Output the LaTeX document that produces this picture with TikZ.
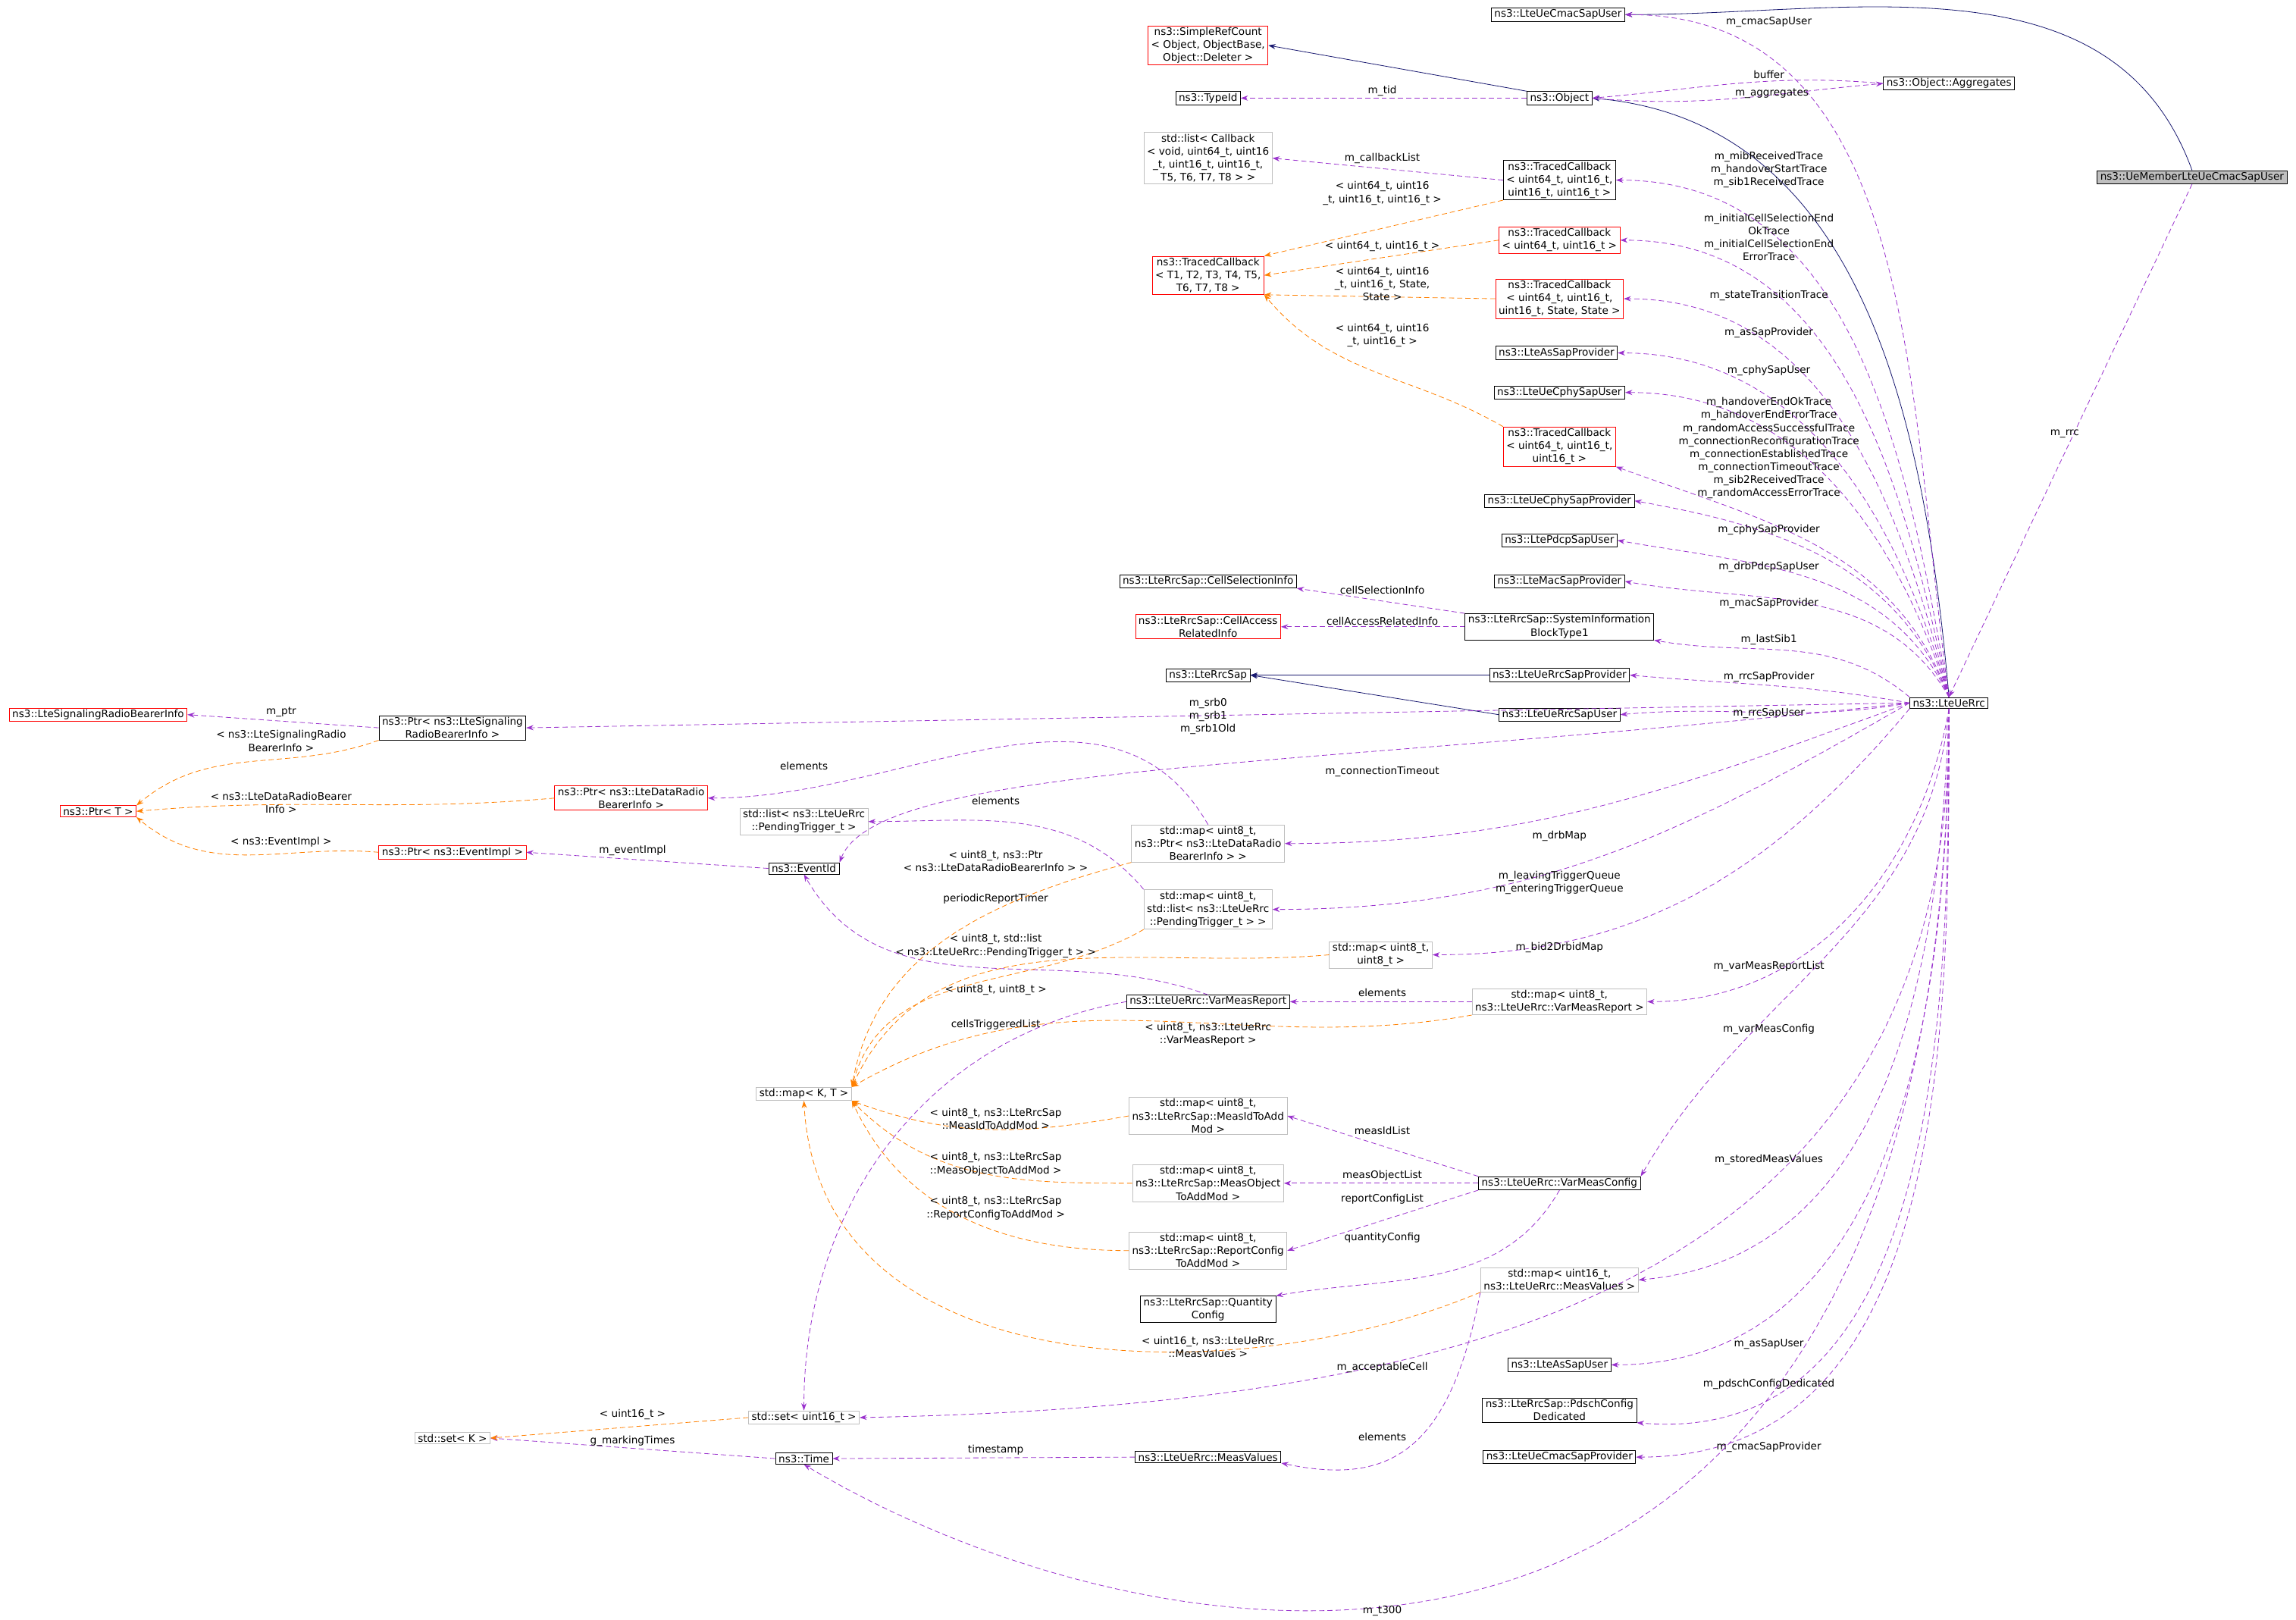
\documentclass[tikz,border=0pt]{standalone}
\usepackage{fontspec}
\setmainfont{DejaVu Sans}
\usetikzlibrary{arrows.meta}
\newcommand\dgf{\fontsize{10}{12.6}\selectfont}
\definecolor{purp}{HTML}{9A32CD}
\definecolor{mblue}{HTML}{191970}
\definecolor{lgray}{HTML}{BFBFBF}
\tikzset{
 box/.style={draw=black,fill=white,font=\dgf,align=center,inner xsep=3pt,inner ysep=1.6pt,line width=0.6pt},
 rbox/.style={box,draw=red},
 gbox/.style={box,draw=lgray},
 lbl/.style={font=\dgf,align=center,inner sep=0pt},
 use/.style={draw=purp,dash pattern=on 5pt off 3pt,line width=0.6pt,-{Stealth[length=7pt,width=5pt]}},
 tmpl/.style={draw=orange,dash pattern=on 5pt off 3pt,line width=0.6pt,-{Stealth[length=7pt,width=5pt]}},
 inh/.style={draw=mblue,line width=0.6pt,-{Stealth[length=7pt,width=5pt]}}
}
\begin{document}
\begin{tikzpicture}[x=0.05cm,y=0.05cm]
\useasboundingbox (0,0) rectangle (1568,-1106);
% nodes
\node[box,fill=lgray] (ue) at (1497,-121) {ns3::UeMemberLteUeCmacSapUser};
\node[box] (cmu) at (1064,-10) {ns3::LteUeCmacSapUser};
\node[rbox] (src) at (825,-31) {ns3::SimpleRefCount\\< Object, ObjectBase,\\Object::Deleter >};
\node[box] (tid) at (825,-67) {ns3::TypeId};
\node[box] (obj) at (1065,-67) {ns3::Object};
\node[box] (agg) at (1331,-57) {ns3::Object::Aggregates};
\node[gbox] (lcb) at (825,-108) {std::list< Callback\\< void, uint64\_t, uint16\\\_t, uint16\_t, uint16\_t,\\T5, T6, T7, T8 > >};
\node[box] (tc4) at (1065,-123) {ns3::TracedCallback\\< uint64\_t, uint16\_t,\\uint16\_t, uint16\_t >};
\node[rbox] (tcT) at (825,-188) {ns3::TracedCallback\\< T1, T2, T3, T4, T5,\\T6, T7, T8 >};
\node[rbox] (tc2) at (1065,-164) {ns3::TracedCallback\\< uint64\_t, uint16\_t >};
\node[rbox] (tcs) at (1065,-204) {ns3::TracedCallback\\< uint64\_t, uint16\_t,\\uint16\_t, State, State >};
\node[box] (asp) at (1063,-241) {ns3::LteAsSapProvider};
\node[box] (cpu) at (1065,-268) {ns3::LteUeCphySapUser};
\node[rbox] (tc3) at (1065,-305) {ns3::TracedCallback\\< uint64\_t, uint16\_t,\\uint16\_t >};
\node[box] (cpp) at (1065,-342) {ns3::LteUeCphySapProvider};
\node[box] (pdu) at (1065,-369) {ns3::LtePdcpSapUser};
\node[box] (msp) at (1065,-397) {ns3::LteMacSapProvider};
\node[box] (csi) at (825,-397) {ns3::LteRrcSap::CellSelectionInfo};
\node[rbox] (cari) at (825,-428) {ns3::LteRrcSap::CellAccess\\RelatedInfo};
\node[box] (sib) at (1065,-428) {ns3::LteRrcSap::SystemInformation\\BlockType1};
\node[box] (rsap) at (825,-461) {ns3::LteRrcSap};
\node[box] (rsp) at (1065,-461) {ns3::LteUeRrcSapProvider};
\node[box] (rsu) at (1065,-488) {ns3::LteUeRrcSapUser};
\node[box] (rrc) at (1331,-480) {ns3::LteUeRrc};
\node[rbox] (lsrb) at (67,-488) {ns3::LteSignalingRadioBearerInfo};
\node[box] (psrb) at (309,-497) {ns3::Ptr< ns3::LteSignaling\\RadioBearerInfo >};
\node[rbox] (ptrT) at (67,-554) {ns3::Ptr< T >};
\node[rbox] (pdrb) at (431,-545) {ns3::Ptr< ns3::LteDataRadio\\BearerInfo >};
\node[gbox] (plist) at (549,-561) {std::list< ns3::LteUeRrc\\::PendingTrigger\_t >};
\node[gbox] (mdrb) at (825,-576) {std::map< uint8\_t,\\ns3::Ptr< ns3::LteDataRadio\\BearerInfo > >};
\node[rbox] (pei) at (309,-582) {ns3::Ptr< ns3::EventImpl >};
\node[box] (eid) at (549,-593) {ns3::EventId};
\node[gbox] (mlist) at (825,-621) {std::map< uint8\_t,\\std::list< ns3::LteUeRrc\\::PendingTrigger\_t > >};
\node[gbox] (mu8) at (943,-652) {std::map< uint8\_t,\\uint8\_t >};
\node[box] (vmr) at (825,-684) {ns3::LteUeRrc::VarMeasReport};
\node[gbox] (mvmr) at (1065,-684) {std::map< uint8\_t,\\ns3::LteUeRrc::VarMeasReport >};
\node[gbox] (mkt) at (549,-747) {std::map< K, T >};
\node[gbox] (mid) at (825,-762) {std::map< uint8\_t,\\ns3::LteRrcSap::MeasIdToAdd\\Mod >};
\node[gbox] (mobj) at (825,-808) {std::map< uint8\_t,\\ns3::LteRrcSap::MeasObject\\ToAddMod >};
\node[gbox] (mrep) at (825,-854) {std::map< uint8\_t,\\ns3::LteRrcSap::ReportConfig\\ToAddMod >};
\node[box] (vmc) at (1065,-808) {ns3::LteUeRrc::VarMeasConfig};
\node[box] (qc) at (825,-894) {ns3::LteRrcSap::Quantity\\Config};
\node[gbox] (mmv) at (1065,-874) {std::map< uint16\_t,\\ns3::LteUeRrc::MeasValues >};
\node[box] (asu) at (1065,-932) {ns3::LteAsSapUser};
\node[box] (pdsch) at (1065,-963) {ns3::LteRrcSap::PdschConfig\\Dedicated};
\node[box] (cmp) at (1065,-995) {ns3::LteUeCmacSapProvider};
\node[gbox] (su16) at (549,-968) {std::set< uint16\_t >};
\node[gbox] (setK) at (309,-982) {std::set< K >};
\node[box] (time) at (549,-996) {ns3::Time};
\node[box] (mv) at (825,-995) {ns3::LteUeRrc::MeasValues};
% inheritance
\draw[inh] (ue.north) to[out=110,in=0] (cmu.east);
\draw[inh] (obj.north west) -- (src.east);
\draw[inh] (rrc.north) to[out=95,in=-5] (obj.east);
\draw[inh] (rsp.west) -- (rsap.east);
\draw[inh] (rsu.west) -- (rsap.east);
% usage
\draw[use] (ue.south) -- (rrc.north); \node[lbl] (l1) at (1410,-296) {m\_rrc};
\draw[use] (obj.west) -- (tid.east); \node[lbl] (l2) at (944,-62) {m\_tid};
\draw[use] (obj.east) to[out=-5,in=185] (agg.west); \node[lbl] (l3) at (1210,-64) {m\_aggregates};
\draw[use] (agg.west) to[out=175,in=5] (obj.east); \node[lbl] (l4) at (1208,-51) {buffer};
\draw[use] (rrc.north) to[out=98,in=0] (cmu.east); \node[lbl] (l5) at (1208,-15) {m\_cmacSapUser};
\draw[use] (tc4.west) -- (lcb.east); \node[lbl] (l6) at (944,-108) {m\_callbackList};
\draw[use] (rrc.north) to[out=100,in=0] (tc4.east); \node[lbl] (l7) at (1208,-116) {m\_mibReceivedTrace\\m\_handoverStartTrace\\m\_sib1ReceivedTrace};
\draw[use] (rrc.north) to[out=102,in=0] (tc2.east); \node[lbl] (l8) at (1208,-162) {m\_initialCellSelectionEnd\\OkTrace\\m\_initialCellSelectionEnd\\ErrorTrace};
\draw[use] (rrc.north) to[out=104,in=0] (tcs.east); \node[lbl] (l9) at (1208,-202) {m\_stateTransitionTrace};
\draw[use] (rrc.north) to[out=106,in=0] (asp.east); \node[lbl] (l10) at (1208,-227) {m\_asSapProvider};
\draw[use] (rrc.north) to[out=108,in=0] (cpu.east); \node[lbl] (l11) at (1208,-253) {m\_cphySapUser};
\draw[use] (rrc.north) to[out=110,in=-20] (tc3.south east); \node[lbl] (l12) at (1208,-306) {m\_handoverEndOkTrace\\m\_handoverEndErrorTrace\\m\_randomAccessSuccessfulTrace\\m\_connectionReconfigurationTrace\\m\_connectionEstablishedTrace\\m\_connectionTimeoutTrace\\m\_sib2ReceivedTrace\\m\_randomAccessErrorTrace};
\draw[use] (rrc.north) to[out=112,in=-10] (cpp.east); \node[lbl] (l13) at (1208,-362) {m\_cphySapProvider};
\draw[use] (rrc.north) to[out=115,in=-10] (pdu.east); \node[lbl] (l14) at (1208,-387) {m\_drbPdcpSapUser};
\draw[use] (rrc.north) to[out=120,in=-10] (msp.east); \node[lbl] (l15) at (1208,-412) {m\_macSapProvider};
\draw[use] (rrc.north west) to[out=140,in=-10] (sib.south east); \node[lbl] (l16) at (1208,-437) {m\_lastSib1};
\draw[use] (sib.north west) -- (csi.south east); \node[lbl] (l17) at (944,-403) {cellSelectionInfo};
\draw[use] (sib.west) -- (cari.east); \node[lbl] (l18) at (944,-424) {cellAccessRelatedInfo};
\draw[use] (rrc.west) to[out=170,in=-5] (rsp.east); \node[lbl] (l19) at (1208,-462) {m\_rrcSapProvider};
\draw[use] (rrc.west) to[out=190,in=5] (rsu.east); \node[lbl] (l20) at (1208,-487) {m\_rrcSapUser};
\draw[use] (rrc.west) -- (psrb.east); \node[lbl] (l21) at (825,-489) {m\_srb0\\m\_srb1\\m\_srb1Old};
\draw[use] (psrb.west) -- (lsrb.east); \node[lbl] (l22) at (192,-486) {m\_ptr};
\draw[use] (rrc.west) .. controls (900,-525) and (600,-520) .. (eid.north east); \node[lbl] (l23) at (944,-527) {m\_connectionTimeout};
\draw[use] (mdrb.north) to[out=120,in=0] (pdrb.east); \node[lbl] (l24) at (549,-523) {elements};
\draw[use] (mlist.north west) to[out=130,in=0] (plist.east); \node[lbl] (l25) at (680,-547) {elements};
\draw[use] (rrc.west) to[out=200,in=0] (mdrb.east); \node[lbl] (l26) at (1065,-571) {m\_drbMap};
\draw[use] (rrc.west) to[out=210,in=0] (mlist.east); \node[lbl] (l27) at (1065,-603) {m\_leavingTriggerQueue\\m\_enteringTriggerQueue};
\draw[use] (rrc.south west) to[out=230,in=0] (mu8.east); \node[lbl] (l28) at (1065,-647) {m\_bid2DrbidMap};
\draw[use] (rrc.south) to[out=-100,in=0] (mvmr.east); \node[lbl] (l29) at (1208,-660) {m\_varMeasReportList};
\draw[use] (mvmr.west) -- (vmr.east); \node[lbl] (l30) at (944,-678) {elements};
\draw[use] (vmr.north) to[out=160,in=-60] (eid.south); \node[lbl] (l31) at (680,-614) {periodicReportTimer};
\draw[use] (vmr.west) to[out=190,in=90] (su16.north); \node[lbl] (l32) at (680,-700) {cellsTriggeredList};
\draw[use] (eid.west) -- (pei.east); \node[lbl] (l33) at (432,-581) {m\_eventImpl};
\draw[use] (rrc.south) to[out=-95,in=60] (vmc.north east); \node[lbl] (l34) at (1208,-703) {m\_varMeasConfig};
\draw[use] (vmc.north west) -- (mid.east); \node[lbl] (l35) at (944,-772) {measIdList};
\draw[use] (vmc.west) -- (mobj.east); \node[lbl] (l36) at (944,-803) {measObjectList};
\draw[use] (vmc.south west) -- (mrep.east); \node[lbl] (l37) at (944,-819) {reportConfigList};
\draw[use] (vmc.south) to[out=-120,in=10] (qc.north east); \node[lbl] (l38) at (944,-845) {quantityConfig};
\draw[use] (rrc.south) to[out=-92,in=5] (mmv.east); \node[lbl] (l39) at (1208,-792) {m\_storedMeasValues};
\draw[use] (rrc.south) .. controls (1335,-880) and (1000,-960) .. (su16.east); \node[lbl] (l40) at (944,-934) {m\_acceptableCell};
\draw[use] (mmv.south west) .. controls (990,-990) and (950,-1015) .. (mv.south east); \node[lbl] (l41) at (944,-981) {elements};
\draw[use] (mv.west) -- (time.east); \node[lbl] (l42) at (680,-990) {timestamp};
\draw[use] (time.west) -- (setK.east); \node[lbl] (l43) at (432,-984) {g\_markingTimes};
\draw[use] (rrc.south) to[out=-90,in=0] (asu.east); \node[lbl] (l44) at (1208,-918) {m\_asSapUser};
\draw[use] (rrc.south) to[out=-90,in=-5] (pdsch.south east); \node[lbl] (l45) at (1208,-945) {m\_pdschConfigDedicated};
\draw[use] (rrc.south) to[out=-90,in=0] (cmp.east); \node[lbl] (l46) at (1208,-988) {m\_cmacSapProvider};
\draw[use] (rrc.south) .. controls (1330,-1230) and (800,-1150) .. (time.south); \node[lbl] (l47) at (944,-1100) {m\_t300};
% templates
\draw[tmpl] (tc4.south west) -- (tcT.north east); \node[lbl] (t1) at (944,-132) {< uint64\_t, uint16\\\_t, uint16\_t, uint16\_t >};
\draw[tmpl] (tc2.west) -- (tcT.east); \node[lbl] (t2) at (944,-168) {< uint64\_t, uint16\_t >};
\draw[tmpl] (tcs.west) -- (tcT.south east); \node[lbl] (t3) at (944,-194) {< uint64\_t, uint16\\\_t, uint16\_t, State,\\State >};
\draw[tmpl] (tc3.north west) to[out=150,in=-50] (tcT.south east); \node[lbl] (t4) at (944,-229) {< uint64\_t, uint16\\\_t, uint16\_t >};
\draw[tmpl] (psrb.south west) to[out=200,in=40] (ptrT.north east); \node[lbl] (t5) at (192,-506) {< ns3::LteSignalingRadio\\BearerInfo >};
\draw[tmpl] (pdrb.west) to[out=185,in=5] (ptrT.east); \node[lbl] (t6) at (192,-548) {< ns3::LteDataRadioBearer\\Info >};
\draw[tmpl] (pei.west) to[out=175,in=-40] (ptrT.south east); \node[lbl] (t7) at (192,-575) {< ns3::EventImpl >};
\draw[tmpl] (mdrb.south west) to[out=195,in=80] (mkt.north east); \node[lbl] (t8) at (680,-588) {< uint8\_t, ns3::Ptr\\< ns3::LteDataRadioBearerInfo > >};
\draw[tmpl] (mlist.south west) to[out=210,in=75] (mkt.north east); \node[lbl] (t9) at (680,-646) {< uint8\_t, std::list\\< ns3::LteUeRrc::PendingTrigger\_t > >};
\draw[tmpl] (mu8.west) to[out=185,in=65] (mkt.north east); \node[lbl] (t10) at (680,-676) {< uint8\_t, uint8\_t >};
\draw[tmpl] (mvmr.south west) to[out=190,in=30] (mkt.north east); \node[lbl] (t11) at (825,-706) {< uint8\_t, ns3::LteUeRrc\\::VarMeasReport >};
\draw[tmpl] (mid.west) to[out=190,in=-20] (mkt.south east); \node[lbl] (t12) at (680,-764) {< uint8\_t, ns3::LteRrcSap\\::MeasIdToAddMod >};
\draw[tmpl] (mobj.west) to[out=180,in=-45] (mkt.south east); \node[lbl] (t13) at (680,-795) {< uint8\_t, ns3::LteRrcSap\\::MeasObjectToAddMod >};
\draw[tmpl] (mrep.west) to[out=180,in=-65] (mkt.south east); \node[lbl] (t14) at (680,-825) {< uint8\_t, ns3::LteRrcSap\\::ReportConfigToAddMod >};
\draw[tmpl] (mmv.south west) .. controls (850,-950) and (560,-950) .. (mkt.south); \node[lbl] (t15) at (825,-920) {< uint16\_t, ns3::LteUeRrc\\::MeasValues >};
\draw[tmpl] (su16.west) -- (setK.east); \node[lbl] (t16) at (432,-966) {< uint16\_t >};
\end{tikzpicture}
\end{document}
